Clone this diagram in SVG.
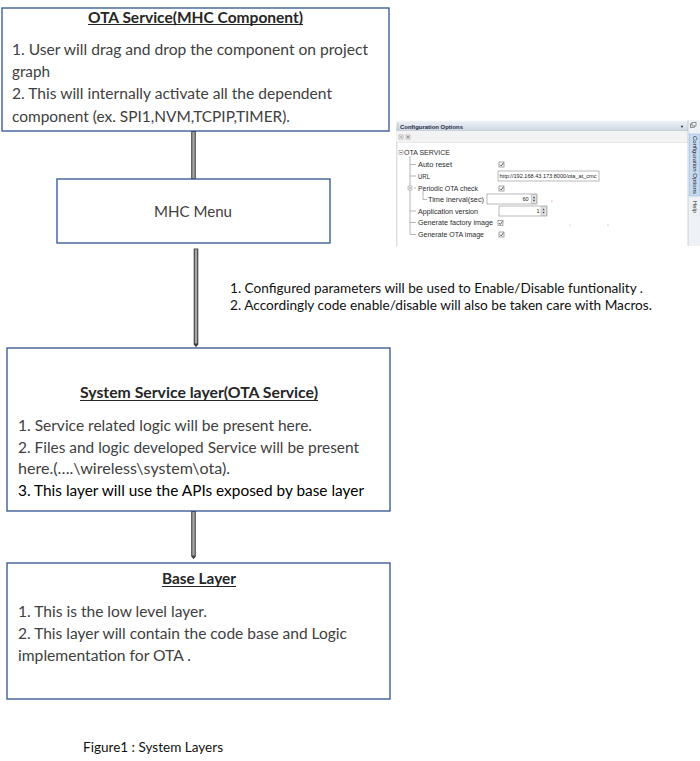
<svg xmlns="http://www.w3.org/2000/svg" width="700" height="761" viewBox="0 0 700 761">
<style>
  .box { fill: #ffffff; stroke: #2F528F; stroke-width: 1.3; }
  .t { font-family: Lato, "Liberation Sans", sans-serif; font-size: 15.5px; fill: #404040; }
  .k { fill: #000000; }
  .h { font-family: Lato, "Liberation Sans", sans-serif; font-size: 15px; font-weight: bold; fill: #262626; }
  .ul { stroke: #262626; stroke-width: 1; }
  .lbl { font-family: Lato, "Liberation Sans", sans-serif; font-size: 12.5px; fill: #111111; }
  .cap { font-family: Lato, "Liberation Sans", sans-serif; font-size: 13px; fill: #111111; }
  .shaft { fill: none; stroke: #3f3f3f; stroke-width: 4.6; }
  .core { fill: none; stroke: #a6a6a6; stroke-width: 2.4; }
  .p { font-family: "Liberation Sans", "DejaVu Sans", sans-serif; font-size: 7px; fill: #2b2b2b; }
  .pt { stroke: #9a9a9a; stroke-width: 0.7; fill: none; }
  .cb { fill: #ffffff; stroke: #6d6d6d; stroke-width: 0.6; }
  .ck { fill: none; stroke: #333333; stroke-width: 0.8; }
  .inp { fill: #ffffff; stroke: #8a8a8a; stroke-width: 0.6; }
  .spin { fill: #e6e6e6; stroke: #9a9a9a; stroke-width: 0.5; }
  .tri { fill: #444444; }
  .pm { fill: #ffffff; stroke: #8a8a8a; stroke-width: 0.5; }
  .pml { stroke: #333333; stroke-width: 0.6; }
</style>
<defs>
  <linearGradient id="tbar" x1="0" y1="0" x2="0" y2="1">
    <stop offset="0" stop-color="#eef2f7"/>
    <stop offset="1" stop-color="#cdd6e1"/>
  </linearGradient>
  <marker id="tip" viewBox="0 -3 4 6" refX="0" refY="0" markerWidth="4" markerHeight="6" markerUnits="userSpaceOnUse" orient="auto">
    <path d="M0,-2.6 L3.2,0 L0,2.6 z" fill="#3f3f3f"/>
  </marker>
</defs>
<rect x="0" y="0" width="700" height="761" fill="#ffffff"/>

<g id="connectors">
  <path class="shaft" d="M193.5 131 V179" marker-end="url(#tip)"/>
  <path class="core" d="M193.5 132 V178.5"/>
  <path class="shaft" d="M196 248.5 V344" marker-end="url(#tip)"/>
  <path class="core" d="M196 249.3 V343.5"/>
  <path class="shaft" d="M193.5 511 V556" marker-end="url(#tip)"/>
  <path class="core" d="M193.5 512 V555.5"/>
</g>

<g id="ota-service">
  <rect class="box" x="2" y="8" width="387" height="123"/>
  <text class="h" x="88" y="22.5" textLength="215" lengthAdjust="spacingAndGlyphs">OTA Service(MHC Component)</text>
  <line class="ul" x1="88" y1="24.5" x2="303" y2="24.5"/>
  <text class="t" x="12" y="55" textLength="356" lengthAdjust="spacingAndGlyphs">1. User will drag and drop the component on project</text>
  <text class="t" x="12" y="77" textLength="38" lengthAdjust="spacingAndGlyphs">graph</text>
  <text class="t" x="12" y="99" textLength="320" lengthAdjust="spacingAndGlyphs">2. This will internally activate all the dependent</text>
  <text class="t" x="12" y="121.5" textLength="278" lengthAdjust="spacingAndGlyphs">component (ex. SPI1,NVM,TCPIP,TIMER).</text>
</g>

<g id="mhc-menu">
  <rect class="box" x="57" y="179" width="273" height="64"/>
  <text class="t" x="154" y="216.5" textLength="78" lengthAdjust="spacingAndGlyphs">MHC Menu</text>
</g>

<g id="config-note">
  <text class="lbl" x="230" y="293" textLength="413" lengthAdjust="spacingAndGlyphs">1. Configured parameters will be used to Enable/Disable funtionality .</text>
  <text class="lbl" x="230" y="309.5" textLength="422" lengthAdjust="spacingAndGlyphs">2. Accordingly code enable/disable will also be taken care with Macros.</text>
</g>

<g id="system-service-layer">
  <rect class="box" x="7" y="348" width="383" height="163"/>
  <text class="h" x="80" y="398" textLength="238" lengthAdjust="spacingAndGlyphs">System Service layer(OTA Service)</text>
  <line class="ul" x1="80" y1="400.5" x2="318" y2="400.5"/>
  <text class="t" x="18" y="430.7" textLength="294" lengthAdjust="spacingAndGlyphs">1. Service related logic will be present here.</text>
  <text class="t" x="18" y="452.7" textLength="341" lengthAdjust="spacingAndGlyphs">2. Files and logic developed Service will be present</text>
  <text class="t" x="18" y="474.3" textLength="212" lengthAdjust="spacingAndGlyphs">here.(….\wireless\system\ota).</text>
  <text class="t k" x="18" y="496" textLength="346" lengthAdjust="spacingAndGlyphs">3. This layer will use the APIs exposed by base layer</text>
</g>

<g id="base-layer">
  <rect class="box" x="7" y="563" width="383" height="136"/>
  <text class="h" x="162" y="584" textLength="74" lengthAdjust="spacingAndGlyphs">Base Layer</text>
  <line class="ul" x1="162" y1="586.5" x2="236" y2="586.5"/>
  <text class="t" x="18" y="616.7" textLength="189" lengthAdjust="spacingAndGlyphs">1. This is the low level layer.</text>
  <text class="t" x="18" y="639" textLength="329" lengthAdjust="spacingAndGlyphs">2. This layer will contain the code base and Logic</text>
  <text class="t" x="18" y="660.7" textLength="173" lengthAdjust="spacingAndGlyphs">implementation for OTA .</text>
</g>

<g id="caption">
  <text class="cap" x="83" y="752" textLength="140" lengthAdjust="spacingAndGlyphs">Figure1 : System Layers</text>
</g>

<g id="config-panel">
  <!-- title bar -->
  <rect x="396" y="121" width="292" height="10" fill="url(#tbar)"/>
  <line x1="396" y1="131" x2="688" y2="131" stroke="#b9c3cf" stroke-width="0.6"/>
  <line x1="398" y1="123" x2="398" y2="130" stroke="#8c98a6" stroke-width="0.8" stroke-dasharray="0.8 0.8"/>
  <text x="400" y="128.8" font-family="'Liberation Sans', sans-serif" font-size="6" font-weight="bold" fill="#1f2a44" textLength="63" lengthAdjust="spacingAndGlyphs">Configuration Options</text>
  <circle cx="682" cy="126.5" r="1" fill="#333333"/>
  <!-- toolbar -->
  <rect x="396" y="131" width="292" height="11.5" fill="#f3f3f3"/>
  <rect class="pm" x="399" y="135" width="4" height="4"/>
  <line class="pml" x1="399.8" y1="137" x2="402.2" y2="137"/>
  <rect class="pm" x="406" y="135" width="4" height="4"/>
  <line class="pml" x1="406.8" y1="137" x2="409.2" y2="137"/>
  <line class="pml" x1="408" y1="135.8" x2="408" y2="138.2"/>
  <line x1="396" y1="142.5" x2="688" y2="142.5" stroke="#b5b5b5" stroke-width="0.6"/>
  <!-- tree area -->
  <rect x="396.5" y="142.5" width="291" height="103" fill="#ffffff"/>
  <line x1="396.8" y1="142.5" x2="396.8" y2="246" stroke="#b0b0b0" stroke-width="0.6"/>
  <!-- OTA SERVICE -->
  <rect class="pm" x="399" y="150.5" width="4" height="4"/>
  <line class="pml" x1="399.8" y1="152.5" x2="402.2" y2="152.5"/>
  <text class="p" x="404" y="155" textLength="46" lengthAdjust="spacingAndGlyphs">OTA SERVICE</text>
  <!-- tree lines -->
  <path class="pt" d="M410 156 V234.5 M410 164.5 H416 M410 176 H416 M410 211 H416 M410 222.5 H416 M410 234.5 H416"/>
  <path class="pt" d="M414 188 H416 M423 191 V199.5 H427"/>
  <rect class="pm" x="408" y="186" width="4" height="4"/>
  <line class="pml" x1="408.8" y1="188" x2="411.2" y2="188"/>
  <!-- rows -->
  <text class="p" x="418" y="167" textLength="34" lengthAdjust="spacingAndGlyphs">Auto reset</text>
  <text class="p" x="418" y="178.5" textLength="12" lengthAdjust="spacingAndGlyphs">URL</text>
  <text class="p" x="418" y="190.5" textLength="60" lengthAdjust="spacingAndGlyphs">Periodic OTA check</text>
  <text class="p" x="428" y="201.8" textLength="56" lengthAdjust="spacingAndGlyphs">Time inerval(sec)</text>
  <text class="p" x="418" y="213.5" textLength="60" lengthAdjust="spacingAndGlyphs">Application version</text>
  <text class="p" x="418" y="225" textLength="75" lengthAdjust="spacingAndGlyphs">Generate factory image</text>
  <text class="p" x="418" y="236.8" textLength="66" lengthAdjust="spacingAndGlyphs">Generate OTA image</text>
  <!-- checkboxes -->
  <rect class="cb" x="499" y="162" width="5" height="5"/>
  <path class="ck" d="M500 164.6 L501.3 166 L503.4 162.8"/>
  <rect class="cb" x="499" y="186" width="5" height="5"/>
  <path class="ck" d="M500 188.6 L501.3 190 L503.4 186.8"/>
  <rect class="cb" x="498" y="220.5" width="5" height="5"/>
  <path class="ck" d="M499 223.1 L500.3 224.5 L502.4 221.3"/>
  <rect class="cb" x="499" y="232" width="5" height="5"/>
  <path class="ck" d="M500 234.6 L501.3 236 L503.4 232.8"/>
  <!-- URL input -->
  <rect class="inp" x="498" y="171" width="101" height="10"/>
  <text x="499.5" y="178" font-family="'Liberation Sans', sans-serif" font-size="5" fill="#222222" textLength="97" lengthAdjust="spacingAndGlyphs">http://192.168.43.173:8000/ota_at_cmc</text>
  <!-- time interval input -->
  <rect class="inp" x="487" y="194" width="50" height="10"/>
  <text x="528.5" y="201" font-family="'Liberation Sans', sans-serif" font-size="5.5" fill="#222222" text-anchor="end">60</text>
  <rect class="spin" x="531.5" y="194.8" width="5" height="8.4"/>
  <path class="tri" d="M532.8 198.2 L534 196.2 L535.2 198.2 z M532.8 199.8 L534 201.8 L535.2 199.8 z"/>
  <!-- app version input -->
  <rect class="inp" x="499" y="206" width="48" height="10"/>
  <text x="539.5" y="213" font-family="'Liberation Sans', sans-serif" font-size="5.5" fill="#222222" text-anchor="end">1</text>
  <rect class="spin" x="541" y="206.8" width="5.3" height="8.4"/>
  <path class="tri" d="M542.4 210.2 L543.6 208.2 L544.8 210.2 z M542.4 211.8 L543.6 213.8 L544.8 211.8 z"/>
  <!-- stray red pixels -->
  <circle cx="552" cy="201" r="0.6" fill="#f07070"/>
  <circle cx="570" cy="225" r="0.6" fill="#f4a0a0"/>
  <circle cx="608" cy="225" r="0.6" fill="#f07070"/>
  <!-- right side strip -->
  <rect x="688" y="120" width="12" height="126" fill="#eef1f5"/>
  <line x1="688" y1="120" x2="688" y2="246" stroke="#b0b8c2" stroke-width="0.6"/>
  <rect x="690.5" y="124" width="4" height="3.5" fill="none" stroke="#555555" stroke-width="0.6"/>
  <rect x="692" y="122.5" width="4" height="3.5" fill="#eef1f5" stroke="#555555" stroke-width="0.6"/>
  <rect x="689.5" y="134" width="10" height="62" fill="#c7dcf2" stroke="#8fb0d4" stroke-width="0.5"/>
  <text transform="translate(693.2 136) rotate(90)" font-family="'Liberation Sans', sans-serif" font-size="5.5" fill="#222222" textLength="58" lengthAdjust="spacingAndGlyphs">Configuration Options</text>
  <text transform="translate(693.2 201) rotate(90)" font-family="'Liberation Sans', sans-serif" font-size="5.5" fill="#222222" textLength="12" lengthAdjust="spacingAndGlyphs">Help</text>
</g>
</svg>
